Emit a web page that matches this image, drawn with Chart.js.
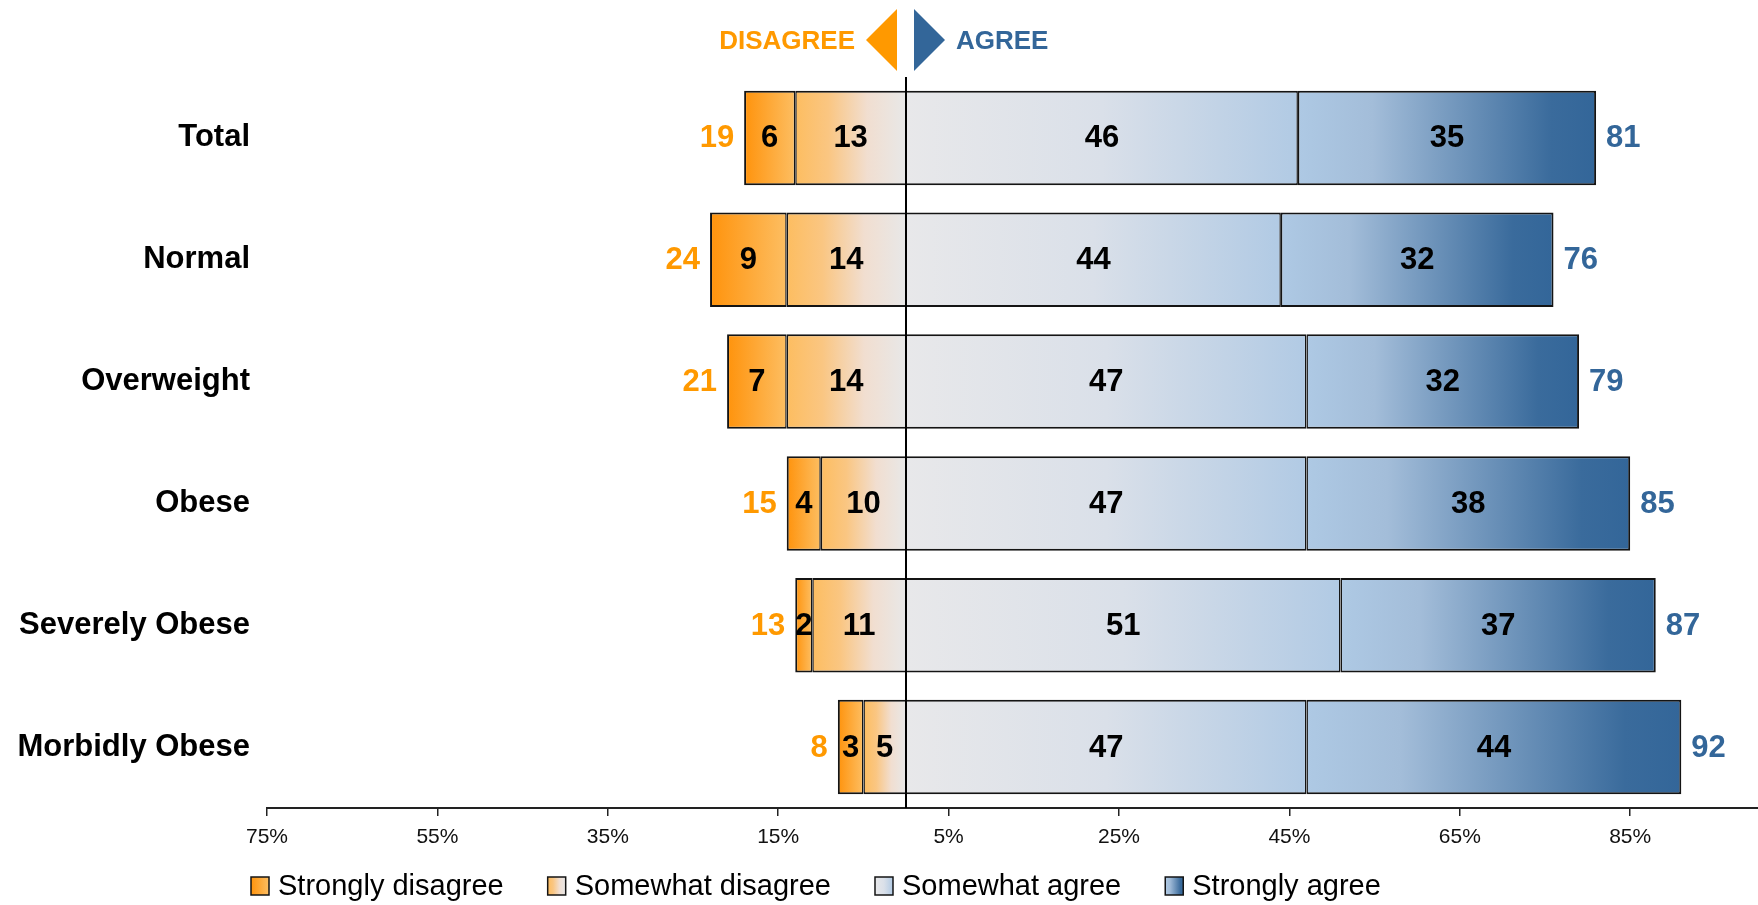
<!DOCTYPE html>
<html lang="en">
<head>
  <meta charset="UTF-8">
  <title>Agreement by Weight Category</title>
  <script src="https://cdn.jsdelivr.net/npm/chart.js"></script>
  <style>
    html, body { margin: 0; padding: 0; background: #fff; }
    .chart-container { position: relative; width: 1758px; height: 905px; }
  </style>
</head>
<body>
  <div class="chart-container">
    <canvas id="likertChart" width="1758" height="905"></canvas>
  </div>

  <script>
    const categories = ['Total', 'Normal', 'Overweight', 'Obese', 'Severely Obese', 'Morbidly Obese'];
    const stronglyDisagree = [6, 9, 7, 4, 2, 3];
    const somewhatDisagree = [13, 14, 14, 10, 11, 5];
    const somewhatAgree = [46, 44, 47, 47, 51, 47];
    const stronglyAgree = [35, 32, 32, 38, 37, 44];
    const disagreeTotals = [19, 24, 21, 15, 13, 8];
    const agreeTotals = [81, 76, 79, 85, 87, 92];
    const xTickValues = [-75, -55, -35, -15, 5, 25, 45, 65, 85];

    const ORANGE = '#ff9900';
    const BLUE = '#336699';
    const EDGE = '#141414';
    const FONT = "'Liberation Sans', Arial, sans-serif";

    // colour stops, always left -> right on screen
    const stops = {
      sd: [[0, '#ff930c'], [1, '#fdbe62']],
      wd: [[0, '#fdbd60'], [0.3, '#fac682'], [0.65, '#f1ded0'], [1, '#e8e8e8']],
      wa: [[0, '#e8e8ea'], [0.5, '#dae0e9'], [1, '#b1cae4']],
      sa: [[0, '#aec9e4'], [0.25, '#a3bdd9'], [0.85, '#3a6b9c'], [1, '#336699']]
    };

    function makeGradient(ctx, x0, x1, list) {
      const g = ctx.createLinearGradient(x0, 0, x1, 0);
      list.forEach(([o, c]) => g.addColorStop(o, c));
      return g;
    }

    // one gradient per segment, spanning that segment's own width
    function segmentFill(values, inner, side, list) {
      return (c) => {
        const chart = c.chart;
        const xs = chart.scales && chart.scales.x;
        if (!chart.chartArea || !xs || c.dataIndex === undefined) return list[0][1];
        const i = c.dataIndex;
        const from = side * (inner ? inner[i] : 0);
        const to = from + side * values[i];
        const a = xs.getPixelForValue(from);
        const b = xs.getPixelForValue(to);
        return makeGradient(chart.ctx, Math.min(a, b), Math.max(a, b), list);
      };
    }

    const seriesDefs = [
      { label: 'Somewhat disagree', values: somewhatDisagree, inner: null, side: -1, key: 'wd',
        border: { top: 2, bottom: 2, left: 1.5, right: 1 } },
      { label: 'Strongly disagree', values: stronglyDisagree, inner: somewhatDisagree, side: -1, key: 'sd',
        border: { top: 2, bottom: 2, left: 2, right: 1.5 } },
      { label: 'Somewhat agree', values: somewhatAgree, inner: null, side: 1, key: 'wa',
        border: { top: 2, bottom: 2, left: 1, right: 1.5 } },
      { label: 'Strongly agree', values: stronglyAgree, inner: somewhatAgree, side: 1, key: 'sa',
        border: { top: 2, bottom: 2, left: 1.5, right: 2 } }
    ];
    const legendOrder = ['Strongly disagree', 'Somewhat disagree', 'Somewhat agree', 'Strongly agree'];

    const datasets = seriesDefs.map(s => ({
      label: s.label,
      data: s.values.map(v => s.side * v),
      backgroundColor: segmentFill(s.values, s.inner, s.side, stops[s.key]),
      borderColor: EDGE,
      borderWidth: s.border,
      borderSkipped: false,
      categoryPercentage: 1,
      barPercentage: 0.775
    }));

    // DISAGREE / AGREE header with arrows
    const headerPlugin = {
      id: 'header',
      afterDraw(chart) {
        const ctx = chart.ctx;
        const cx = chart.scales.x.getPixelForValue(0);
        ctx.save();
        ctx.fillStyle = ORANGE;
        ctx.beginPath();
        ctx.moveTo(cx - 40, 40);
        ctx.lineTo(cx - 9, 9);
        ctx.lineTo(cx - 9, 71);
        ctx.closePath();
        ctx.fill();
        ctx.fillStyle = BLUE;
        ctx.beginPath();
        ctx.moveTo(cx + 39, 40);
        ctx.lineTo(cx + 8, 9);
        ctx.lineTo(cx + 8, 71);
        ctx.closePath();
        ctx.fill();

        ctx.font = 'bold 26px ' + FONT;
        ctx.textBaseline = 'alphabetic';
        ctx.fillStyle = ORANGE;
        ctx.textAlign = 'right';
        ctx.fillText('DISAGREE', cx - 51, 49);
        ctx.fillStyle = BLUE;
        ctx.textAlign = 'left';
        ctx.fillText('AGREE', cx + 50, 49);
        ctx.restore();
      }
    };

    // zero line, segment values and side totals
    const labelPlugin = {
      id: 'barLabels',
      afterDatasetsDraw(chart) {
        const ctx = chart.ctx;
        const area = chart.chartArea;
        const cx = chart.scales.x.getPixelForValue(0);
        ctx.save();
        ctx.strokeStyle = '#000';
        ctx.lineWidth = 2;
        ctx.beginPath();
        ctx.moveTo(cx, area.top);
        ctx.lineTo(cx, area.bottom);
        ctx.stroke();

        ctx.font = 'bold 31px ' + FONT;
        ctx.textBaseline = 'middle';
        ctx.textAlign = 'center';
        ctx.fillStyle = '#000';
        seriesDefs.forEach((s, d) => {
          chart.getDatasetMeta(d).data.forEach((el, i) => {
            ctx.fillText(String(s.values[i]), (el.x + el.base) / 2, el.y + 1);
          });
        });

        const leftBars = chart.getDatasetMeta(1).data;
        const rightBars = chart.getDatasetMeta(3).data;
        ctx.fillStyle = ORANGE;
        ctx.textAlign = 'right';
        leftBars.forEach((el, i) => ctx.fillText(String(disagreeTotals[i]), el.x - 10, el.y + 1));
        ctx.fillStyle = BLUE;
        ctx.textAlign = 'left';
        rightBars.forEach((el, i) => ctx.fillText(String(agreeTotals[i]), el.x + 10, el.y + 1));
        ctx.restore();
      }
    };

    // legend row with gradient swatches
    const legendPlugin = {
      id: 'gradientLegend',
      afterDraw(chart) {
        const ctx = chart.ctx;
        const yMid = 886;
        let x = 251;
        ctx.save();
        ctx.font = '29px ' + FONT;
        ctx.textBaseline = 'middle';
        ctx.textAlign = 'left';
        legendOrder.forEach(name => {
          const s = seriesDefs.find(d => d.label === name);
          ctx.fillStyle = makeGradient(ctx, x, x + 18, stops[s.key]);
          ctx.fillRect(x, yMid - 9, 18, 18);
          ctx.strokeStyle = EDGE;
          ctx.lineWidth = 1.5;
          ctx.strokeRect(x, yMid - 9, 18, 18);
          ctx.fillStyle = '#000';
          ctx.fillText(name, x + 27, yMid + 1);
          x += 27 + ctx.measureText(name).width + 44;
        });
        ctx.restore();
      }
    };

    new Chart(document.getElementById('likertChart'), {
      type: 'bar',
      data: { labels: categories, datasets: datasets },
      options: {
        indexAxis: 'y',
        responsive: false,
        animation: false,
        layout: { padding: { top: 77, bottom: 47, left: 0, right: 0 } },
        scales: {
          x: {
            stacked: true,
            min: -75,
            max: 100,
            afterBuildTicks: s => { s.ticks = xTickValues.map(v => ({ value: v })); },
            afterFit: s => { s.height = 50; },
            ticks: {
              callback: v => Math.abs(v) + '%',
              font: { family: FONT, size: 21 },
              color: '#111',
              padding: 9,
              maxRotation: 0,
              autoSkip: false
            },
            grid: { drawOnChartArea: false, drawTicks: true, tickLength: 8, color: '#222', lineWidth: 1.5 },
            border: { display: true, color: '#222', width: 2 }
          },
          y: {
            stacked: true,
            afterFit: s => { s.width = 267; },
            grid: { display: false, drawTicks: false },
            border: { display: false },
            ticks: { font: { family: FONT, size: 31, weight: 'bold' }, color: '#000', padding: 17 }
          }
        },
        plugins: {
          legend: { display: false },
          tooltip: {
            callbacks: { label: c => c.dataset.label + ': ' + Math.abs(c.raw) + '%' }
          }
        }
      },
      plugins: [labelPlugin, headerPlugin, legendPlugin]
    });
  </script>
</body>
</html>
